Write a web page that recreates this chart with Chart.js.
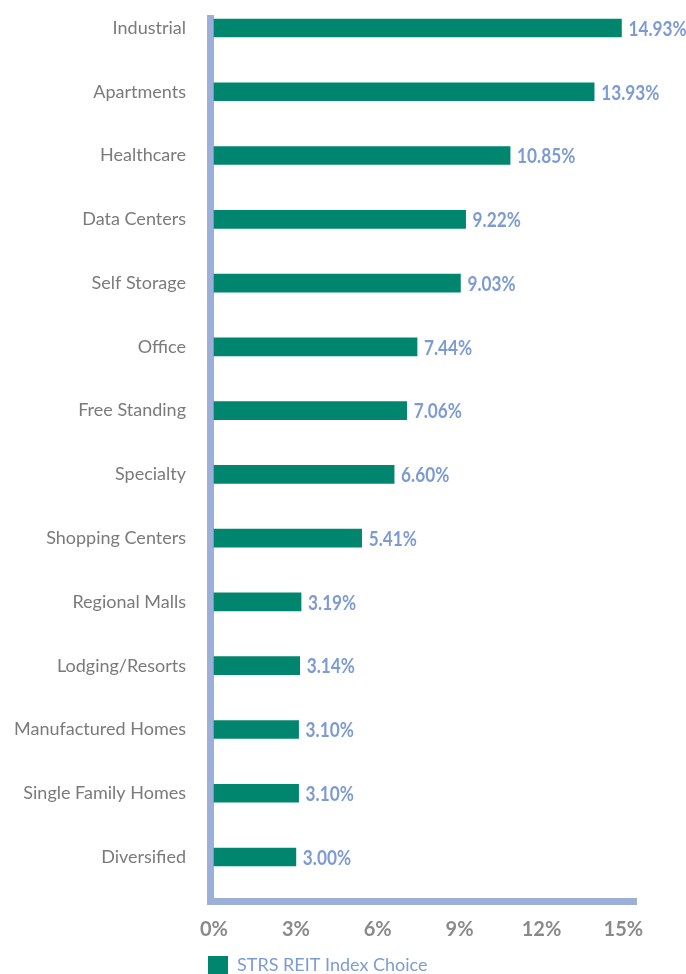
<!DOCTYPE html>
<html>
<head>
<meta charset="utf-8">
<script src="https://cdn.jsdelivr.net/npm/chart.js@4"></script>
<style>
  body { margin: 0; background: #fff; }
  #wrap { width: 686px; height: 974px; }
</style>
</head>
<body>
<div id="wrap"><canvas id="bar-graph"></canvas></div>
<script>
const categories = ["Industrial","Apartments","Healthcare","Data Centers","Self Storage","Office","Free Standing","Specialty","Shopping Centers","Regional Malls","Lodging/Resorts","Manufactured Homes","Single Family Homes","Diversified"];
const weights = [14.93,13.93,10.85,9.22,9.03,7.44,7.06,6.60,5.41,3.19,3.14,3.10,3.10,3.00];
const xTicks = [0,3,6,9,12,15];
const seriesName = "STRS REIT Index Choice";

const teal = "#00866f";
const axisBlue = "#9bafd8";
const labelBlue = "#7d9bd3";

// thick axis frame drawn under the bars
const frame = {
  id: 'frame',
  afterLayout(chart) {
    // legend square sits a little left of the plot edge and near the bottom
    const lg = chart.legend;
    lg.left -= 6; lg.right -= 6;
    lg.top += 10; lg.bottom += 10;
  },
  beforeDatasetsDraw(chart) {
    const {ctx, chartArea} = chart;
    ctx.save();
    ctx.fillStyle = axisBlue;
    ctx.fillRect(chartArea.left - 7, chartArea.top - 13, 7, chartArea.bottom + 48 - (chartArea.top - 13));
    ctx.fillRect(chartArea.left - 7, chartArea.bottom + 41, chartArea.right - chartArea.left + 7, 7);
    ctx.restore();
  }
};

// value labels at bar ends
const barValues = {
  id: 'barValues',
  afterDatasetsDraw(chart) {
    const {ctx} = chart;
    const meta = chart.getDatasetMeta(0);
    ctx.save();
    ctx.fillStyle = labelBlue;
    ctx.font = 'bold 21px Lato, sans-serif';
    ctx.textAlign = 'left';
    ctx.textBaseline = 'middle';
    meta.data.forEach((bar, i) => {
      ctx.save();
      ctx.translate(bar.x + 7, bar.y + 1);
      ctx.scale(0.82, 1);
      ctx.fillText(weights[i].toFixed(2) + '%', 0, 0);
      ctx.restore();
    });
    ctx.restore();
  }
};

const ctx = document.getElementById('bar-graph').getContext('2d');

const myChart = new Chart(ctx, {
  type: 'bar',
  data: {
    labels: categories,
    datasets: [{
      label: seriesName,
      backgroundColor: teal,
      borderWidth: 0,
      data: weights,
      barThickness: 18,
      clip: false
    }]
  },
  options: {
    indexAxis: 'y',
    responsive: true,
    maintainAspectRatio: false,
    animation: false,
    layout: { padding: { top: 28, right: 49, bottom: 0, left: 0 } },
    scales: {
      x: {
        min: 0,
        max: 15.5,
        afterBuildTicks: s => { s.ticks = xTicks.map(v => ({value: v})); },
        afterFit: s => { s.height = 89; s.paddingLeft = 0; s.paddingRight = 0; },
        grid: { display: false, drawTicks: false },
        border: { display: false },
        ticks: {
          padding: 61,
          color: '#8a8a8a',
          font: { family: 'Lato', size: 20, weight: 'bold' },
          callback: v => v + '%'
        }
      },
      y: {
        offset: false,
        afterFit: s => { s.width = 214; s.paddingTop = 0; s.paddingBottom = 0; },
        grid: { display: false, drawTicks: false },
        border: { display: false },
        ticks: {
          padding: 28,
          color: '#7a7a7a',
          font: { family: 'Lato', size: 18 }
        }
      }
    },
    plugins: {
      legend: {
        position: 'bottom',
        align: 'start',
        fullSize: false,
        labels: {
          boxWidth: 20,
          boxHeight: 18,
          padding: 0,
          color: labelBlue,
          font: { family: 'Lato', size: 18 }
        }
      },
      tooltip: { enabled: false }
    }
  },
  plugins: [frame, barValues]
});
</script>
</body>
</html>
